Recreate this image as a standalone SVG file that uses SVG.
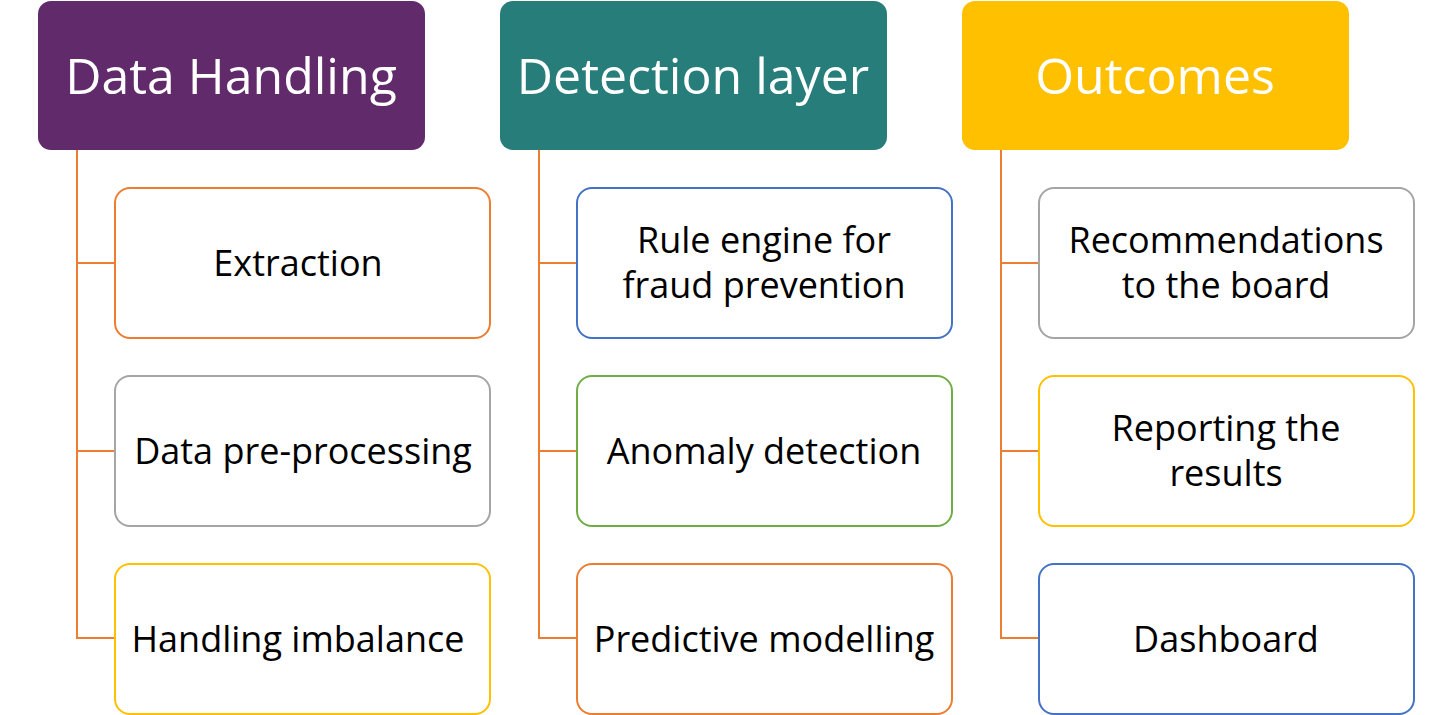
<svg xmlns="http://www.w3.org/2000/svg" width="1452" height="715" viewBox="0 0 1452 715">
<style>
.hdr{font-family:"Open Sans","Noto Sans",sans-serif;font-size:50px;fill:#fff;text-anchor:middle}
.txt{font-family:"Open Sans","Noto Sans",sans-serif;font-size:36px;fill:#000;text-anchor:middle}
.box{fill:#fff;stroke-width:2}
.conn{fill:none;stroke:#ED7D31;stroke-width:2}
</style>
<rect width="1452" height="715" fill="#fff"/>
<g id="connectors">
<path class="conn" d="M77 150V638H115M77 263H115M77 451H115"/>
<path class="conn" d="M539 150V638H577M539 263H577M539 451H577"/>
<path class="conn" d="M1001 150V638H1039M1001 263H1039M1001 451H1039"/>
</g>
<g id="h1"><rect x="38" y="1" width="387" height="149" rx="13" fill="#612A6B"/><text class="hdr" x="231" y="94">Data Handling</text></g>
<g id="h2"><rect x="500" y="1" width="387" height="149" rx="13" fill="#267D7A"/><text class="hdr" x="693" y="94">Detection layer</text></g>
<g id="h3"><rect x="962" y="1" width="387" height="149" rx="13" fill="#FFC000"/><text class="hdr" x="1155" y="94">Outcomes</text></g>
<g id="n1"><rect class="box" x="115" y="188" width="375" height="150" rx="15" stroke="#ED7D31"/><text class="txt" x="298" y="276">Extraction</text></g>
<g id="n2"><rect class="box" x="115" y="376" width="375" height="150" rx="15" stroke="#A5A5A5"/><text class="txt" x="303" y="464">Data pre-processing</text></g>
<g id="n3"><rect class="box" x="115" y="564" width="375" height="150" rx="15" stroke="#FFC000"/><text class="txt" x="298" y="652">Handling imbalance</text></g>
<g id="n4"><rect class="box" x="577" y="188" width="375" height="150" rx="15" stroke="#4472C4"/><text class="txt" x="764" y="253">Rule engine for</text><text class="txt" x="764" y="298">fraud prevention</text></g>
<g id="n5"><rect class="box" x="577" y="376" width="375" height="150" rx="15" stroke="#70AD47"/><text class="txt" x="764" y="464">Anomaly detection</text></g>
<g id="n6"><rect class="box" x="577" y="564" width="375" height="150" rx="15" stroke="#ED7D31"/><text class="txt" x="764" y="652">Predictive modelling</text></g>
<g id="n7"><rect class="box" x="1039" y="188" width="375" height="150" rx="15" stroke="#A5A5A5"/><text class="txt" x="1226" y="253">Recommendations</text><text class="txt" x="1226" y="298">to the board</text></g>
<g id="n8"><rect class="box" x="1039" y="376" width="375" height="150" rx="15" stroke="#FFC000"/><text class="txt" x="1226" y="441">Reporting the</text><text class="txt" x="1226" y="486">results</text></g>
<g id="n9"><rect class="box" x="1039" y="564" width="375" height="150" rx="15" stroke="#4472C4"/><text class="txt" x="1226" y="652">Dashboard</text></g>
</svg>
